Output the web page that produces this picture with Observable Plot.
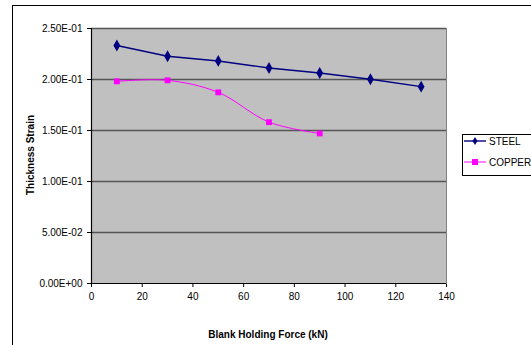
<!DOCTYPE html>
<html>
<head>
<meta charset="utf-8">
<script src="https://cdn.jsdelivr.net/npm/d3@7"></script>
<script src="https://cdn.jsdelivr.net/npm/@observablehq/plot@0.6"></script>
<style>
  html, body { margin: 0; padding: 0; background: #fff; overflow: hidden; }
  #wrap { position: relative; width: 531px; height: 345px; font-family: "Liberation Sans", Arial, sans-serif; }
  #frame { position: absolute; left: 12px; top: 5px; width: 540px; height: 360px; border: 1px solid #000; box-sizing: border-box; pointer-events: none; }
  #chart { position: absolute; left: 0; top: 0; }
  .lbl { position: absolute; font-weight: bold; font-size: 10px; color: #000; white-space: nowrap; }
  #ylab { left: 30px; top: 155px; transform: translate(-50%, -50%) rotate(-90deg); }
  #xlab { left: 268px; top: 334px; transform: translate(-50%, -50%); }
  #legend { position: absolute; left: 462px; top: 134px; width: 80px; height: 42px; border: 1px solid #000; background: #fff; box-sizing: border-box; font-size: 10px; }
  #legend .row { position: absolute; left: 1px; height: 12px; display: flex; align-items: center; }
  #legend .row span { margin-left: 3px; }
</style>
</head>
<body>
<div id="wrap">
  <div id="chart"></div>
  <div id="frame"></div>
  <div class="lbl" id="ylab">Thickness Strain</div>
  <div class="lbl" id="xlab">Blank Holding Force (kN)</div>
  <div id="legend"></div>
</div>
<script>
// Data
const force = [10, 30, 50, 70, 90, 110, 130];
const steel = [0.2333, 0.2228, 0.2182, 0.2113, 0.2064, 0.2002, 0.1930];
const copperForce = [10, 30, 50, 70, 90];
const copper = [0.1982, 0.1992, 0.1874, 0.1582, 0.1471];
const xTicks = [0, 20, 40, 60, 80, 100, 120, 140];
const yTicks = [0, 0.05, 0.10, 0.15, 0.20, 0.25];
const seriesNames = ["STEEL", "COPPER"];
const seriesColors = ["#000080", "#ff00ff"];

const steelData = force.map((f, i) => ({x: f, y: steel[i]}));
const copperData = copperForce.map((f, i) => ({x: f, y: copper[i]}));

function sci(d) {
  if (d === 0) return "0.00E+00";
  let e = Math.floor(Math.log10(Math.abs(d)) + 1e-9);
  let m = d / Math.pow(10, e);
  const sign = e < 0 ? "-" : "+";
  const ea = Math.abs(e);
  return m.toFixed(2) + "E" + sign + (ea < 10 ? "0" + ea : ea);
}

const chart = Plot.plot({
  width: 531,
  height: 345,
  marginLeft: 91,
  marginRight: 85,
  marginTop: 28,
  marginBottom: 62,
  style: { fontFamily: "Liberation Sans, Arial, sans-serif", fontSize: "10px", background: "transparent", color: "#000" },
  x: { domain: [0, 140], ticks: xTicks, tickSize: 4, tickPadding: 5, label: null },
  y: { domain: [0, 0.25], ticks: yTicks, tickSize: 4, tickPadding: 5, tickFormat: sci, label: null },
  marks: [
    Plot.frame({ fill: "#c0c0c0", stroke: "#808080" }),
    Plot.ruleY(yTicks.filter(d => d > 0), { stroke: "#555", strokeWidth: 1.3 }),
    Plot.ruleX([0], { stroke: "#000", strokeWidth: 1.2 }),
    Plot.ruleY([0], { stroke: "#000", strokeWidth: 1.2 }),
    Plot.line(steelData, { x: "x", y: "y", stroke: seriesColors[0], strokeWidth: 1.4 }),
    Plot.line(copperData, { x: "x", y: "y", stroke: seriesColors[1], strokeWidth: 1, curve: "catmull-rom" }),
    Plot.dot(steelData, { x: "x", y: "y", symbol: "diamond", r: 3.6, fill: seriesColors[0], stroke: "none" }),
    Plot.dot(copperData, { x: "x", y: "y", symbol: "square", r: 3.3, fill: seriesColors[1], stroke: "none" })
  ]
});
document.getElementById("chart").appendChild(chart);

// Legend
const legend = document.getElementById("legend");
const tops = [6, 27];
seriesNames.forEach((name, i) => {
  const row = document.createElement("div");
  row.className = "row";
  row.style.top = (tops[i] - 6) + "px";
  const sym = i === 0
    ? `<path d="M11,2 L13.5,6 L11,10 L8.5,6 Z" fill="${seriesColors[0]}"/>`
    : `<rect x="8" y="3" width="6" height="6" fill="${seriesColors[1]}"/>`;
  row.innerHTML = `<svg width="22" height="12"><line x1="0" y1="6" x2="22" y2="6" stroke="${seriesColors[i]}" stroke-width="${i===0?1.4:1}"/>${sym}</svg><span>${name}</span>`;
  legend.appendChild(row);
});
</script>
</body>
</html>
